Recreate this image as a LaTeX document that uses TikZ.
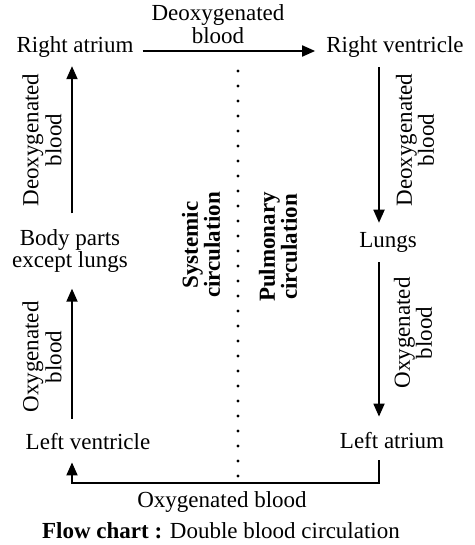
\documentclass[tikz,border=0pt]{standalone}
\usepackage{fontspec}
\setmainfont{Liberation Serif}
\usetikzlibrary{arrows.meta}
\begin{document}
\begin{tikzpicture}[x=1pt,y=-1pt,
  lbl/.style={inner sep=0pt, font=\fontsize{23}{22}\selectfont, align=center},
  rot/.style={lbl, rotate=90},
  arr/.style={line width=1.8pt, -{Triangle[length=13pt,width=11pt]}},
  dots/.style={line width=3.4pt, line cap=round, dash pattern=on 0pt off 15pt}]
\useasboundingbox (0,0) rectangle (474,545);
% main nodes
\node[lbl, anchor=base] (RA) at (75,53) {Right atrium};
\node[lbl, anchor=base] (RV) at (395,53) {Right ventricle};
\node[lbl] (Body) at (70,251) {Body parts\\except lungs};
\node[lbl, anchor=base] (Lungs) at (388,247) {Lungs};
\node[lbl, anchor=base] (LV) at (88,449) {Left ventricle};
\node[lbl, anchor=base] (LA) at (392,448) {Left atrium};
% labels
\node[lbl, font=\fontsize{23}{23}\selectfont] (tl) at (218,24) {Deoxygenated\\blood};
\node[rot, font=\fontsize{23}{23}\selectfont] (lu) at (42,140) {Deoxygenated\\blood};
\node[rot, font=\fontsize{23}{23}\selectfont] (ll) at (42,357) {Oxygenated\\blood};
\node[rot, font=\fontsize{23}{20}\selectfont] (ru) at (415,140) {Deoxygenated\\blood};
\node[rot, font=\fontsize{23}{20}\selectfont] (rl) at (413,333) {Oxygenated\\blood};
\node[rot, font=\fontsize{23}{22}\selectfont\bfseries] (sys) at (201,245) {Systemic\\circulation};
\node[rot, font=\fontsize{23}{22}\selectfont\bfseries] (pul) at (278,247) {Pulmonary\\circulation};
\node[lbl, anchor=base] (ob) at (222,507) {Oxygenated blood};
\node[lbl, anchor=base] (cap) at (221,538) {\textbf{Flow chart :} Double blood circulation};
% helper coordinates
\coordinate (LX) at (72,0);
\coordinate (RX) at (379,0);
\coordinate (BY) at (0,483);
\coordinate (D1) at (238,71);
\coordinate (D2) at (238,476);
% dotted divider
\draw[dots] (D1) -- (D2);
% connectors
\draw[arr, shorten <=9pt, shorten >=11pt] ([yshift=-3.5pt]RA.east) -- ([yshift=-3.5pt]RA.east -| RV.west);
\draw[arr, shorten <=16pt, shorten >=8pt] (Body.north -| LX) -- (RA.south -| LX);
\draw[arr, shorten <=14pt, shorten >=16pt] (LV.north -| LX) -- (Body.south -| LX);
\draw[arr, shorten <=9pt, shorten >=9pt] (RV.south -| RX) -- (Lungs.north -| RX);
\draw[arr, shorten <=10pt, shorten >=15pt] (Lungs.south -| RX) -- (LA.north -| RX);
\draw[arr, shorten >=13pt] ([yshift=-12pt]LA.south -| RX) -- (RX |- BY) -- (LX |- BY) -- (LV.south -| LX);
\end{tikzpicture}
\end{document}
